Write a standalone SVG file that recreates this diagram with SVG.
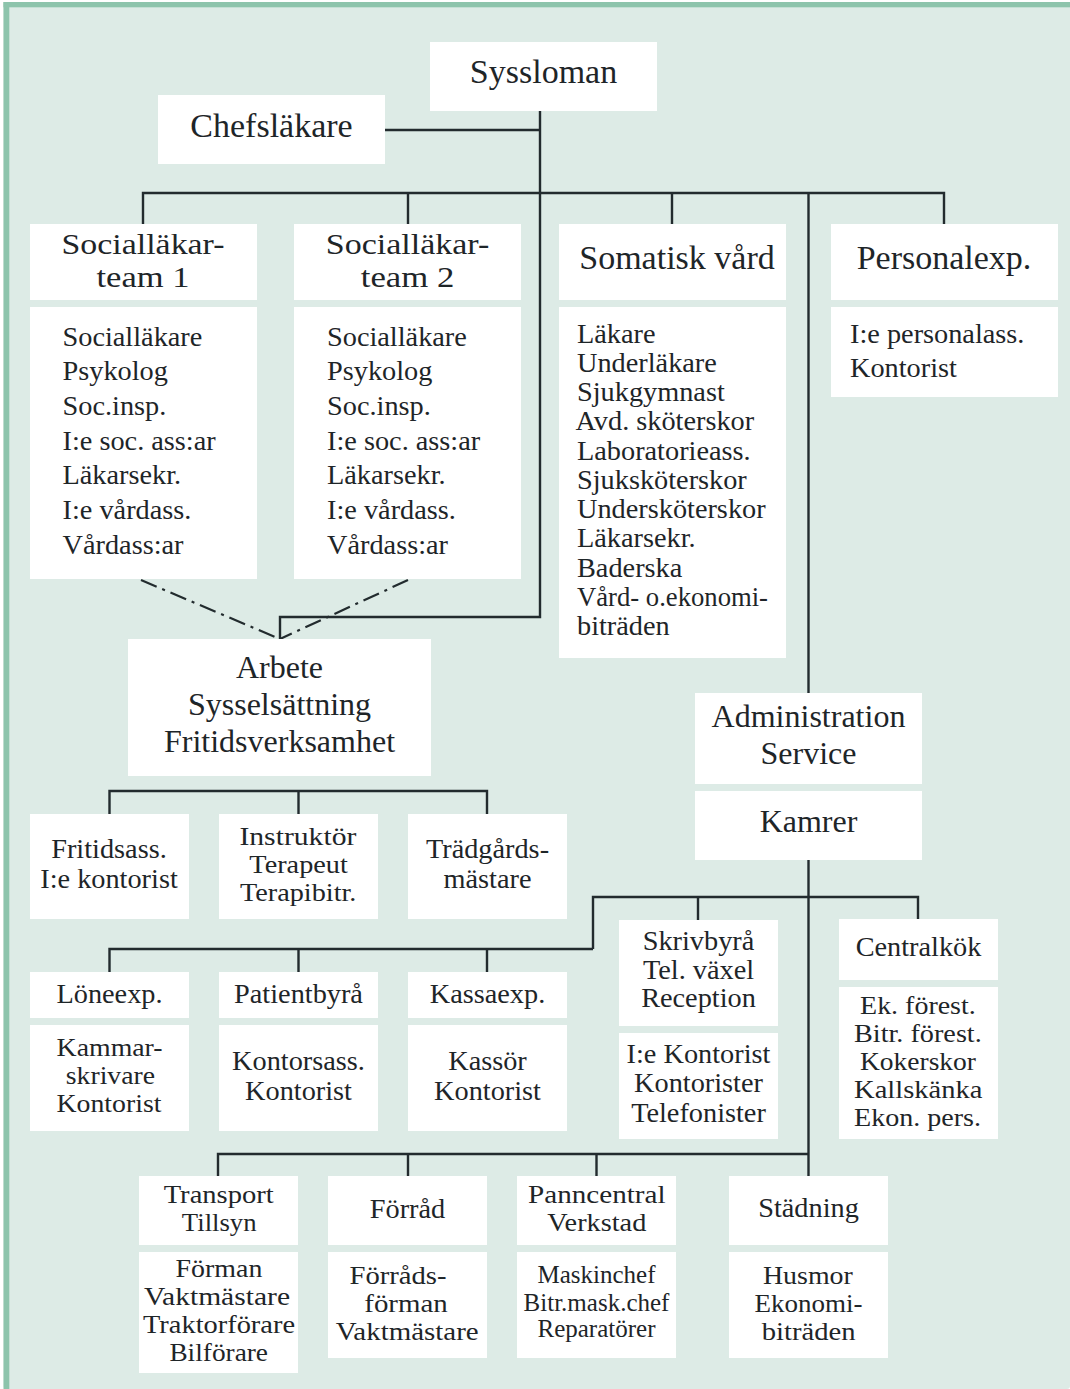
<svg xmlns="http://www.w3.org/2000/svg" width="1070" height="1389" viewBox="0 0 1070 1389">
<style>
.bx{fill:#ffffff}
.t{font-family:"Liberation Serif","Times New Roman",serif;fill:#1e2528;text-anchor:middle}
.l{text-anchor:start}
.h{font-size:34px}
.h2{font-size:30px}
.m{font-size:32px}
.s{font-size:28.3px}
.s2{font-size:25.5px}
.xs{font-size:25px}
.ln{fill:none;stroke:#222b2e;stroke-width:2.4;stroke-linejoin:miter}
.dd{fill:none;stroke:#222b2e;stroke-width:2.2;stroke-dasharray:17 6 3 6}
</style>
<rect x="0" y="0" width="1070" height="1389" fill="#ffffff"/>
<rect x="3.5" y="2" width="1066.5" height="1387" rx="3" fill="#ddebe6"/>
<rect x="3.5" y="2" width="1066.5" height="5.3" fill="#8dc4ac"/>
<rect x="3.5" y="2" width="5.8" height="1387" fill="#8dc4ac"/>

<g id="connectors">
<path class="ln" d="M540,111 V617 H280 V639"/>
<path class="ln" d="M385,130 H540"/>
<path class="ln" d="M143,224 V193 H944 V224"/>
<path class="ln" d="M408,193 V224 M672,193 V224"/>
<path class="ln" d="M808.5,193 V693"/>
<path class="ln" d="M808.5,860 V1176"/>
<path class="ln" d="M918,919 V897 H593 V949"/>
<path class="ln" d="M698,897 V920"/>
<path class="ln" d="M109.5,972 V949 H593"/>
<path class="ln" d="M298.5,949 V972 M487,949 V972"/>
<path class="ln" d="M109.5,814 V791 H487 V814"/>
<path class="ln" d="M298.5,791 V814"/>
<path class="ln" d="M218,1176 V1154 H808.5"/>
<path class="ln" d="M408,1154 V1176 M596.5,1154 V1176"/>
<path class="dd" d="M141,580 L280,639"/>
<path class="dd" d="M408,580 L280,639"/>
</g>

<g id="n-syssloman">
<rect class="bx" x="430" y="42" width="227" height="69"/>
<text class="t h" x="543.5" y="83.3">Syssloman</text>
</g>
<g id="n-chefslakare">
<rect class="bx" x="158" y="95" width="227" height="69"/>
<text class="t h" x="271.5" y="136.7">Chefsläkare</text>
</g>
<g id="n-team1">
<rect class="bx" x="30" y="224" width="227" height="76"/>
<text class="t h2" x="143" y="253.5" textLength="163" lengthAdjust="spacingAndGlyphs">Socialläkar-</text>
<text class="t h2" x="143" y="286.5" textLength="93" lengthAdjust="spacingAndGlyphs">team 1</text>
<rect class="bx" x="30" y="307" width="227" height="272"/>
<text class="t s l" x="62.5" y="345.5">Socialläkare</text>
<text class="t s l" x="62.5" y="380.2">Psykolog</text>
<text class="t s l" x="62.5" y="414.9">Soc.insp.</text>
<text class="t s l" x="62.5" y="449.6">I:e soc. ass:ar</text>
<text class="t s l" x="62.5" y="484.3">Läkarsekr.</text>
<text class="t s l" x="62.5" y="519">I:e vårdass.</text>
<text class="t s l" x="62.5" y="553.7">Vårdass:ar</text>
</g>
<g id="n-team2">
<rect class="bx" x="294" y="224" width="227" height="76"/>
<text class="t h2" x="407.5" y="253.5" textLength="163.5" lengthAdjust="spacingAndGlyphs">Socialläkar-</text>
<text class="t h2" x="407.5" y="286.5" textLength="93.5" lengthAdjust="spacingAndGlyphs">team 2</text>
<rect class="bx" x="294" y="307" width="227" height="272"/>
<text class="t s l" x="327" y="345.5">Socialläkare</text>
<text class="t s l" x="327" y="380.2">Psykolog</text>
<text class="t s l" x="327" y="414.9">Soc.insp.</text>
<text class="t s l" x="327" y="449.6">I:e soc. ass:ar</text>
<text class="t s l" x="327" y="484.3">Läkarsekr.</text>
<text class="t s l" x="327" y="519">I:e vårdass.</text>
<text class="t s l" x="327" y="553.7">Vårdass:ar</text>
</g>
<g id="n-somatisk">
<rect class="bx" x="559" y="224" width="227" height="76"/>
<text class="t h" x="677" y="269.3">Somatisk vård</text>
<rect class="bx" x="559" y="307" width="227" height="351"/>
<text class="t s l" x="577" y="342.7">Läkare</text>
<text class="t s l" x="577" y="371.9">Underläkare</text>
<text class="t s l" x="577" y="401.1">Sjukgymnast</text>
<text class="t s l" x="575.5" y="430.4">Avd. sköterskor</text>
<text class="t s l" x="577" y="459.6">Laboratorieass.</text>
<text class="t s l" x="577" y="488.8">Sjuksköterskor</text>
<text class="t s l" x="577" y="518.1">Undersköterskor</text>
<text class="t s l" x="577" y="547.3">Läkarsekr.</text>
<text class="t s l" x="577" y="576.5">Baderska</text>
<text class="t s l" x="577" y="605.8" textLength="191" lengthAdjust="spacingAndGlyphs">Vård- o.ekonomi-</text>
<text class="t s l" x="577" y="635">biträden</text>
</g>
<g id="n-personal">
<rect class="bx" x="831" y="224" width="227" height="76"/>
<text class="t h" x="944" y="269.3">Personalexp.</text>
<rect class="bx" x="831" y="307" width="227" height="90"/>
<text class="t s l" x="850" y="343.3">I:e personalass.</text>
<text class="t s l" x="850" y="376.7">Kontorist</text>
</g>
<g id="n-arbete">
<rect class="bx" x="128" y="639" width="303" height="137"/>
<text class="t m" x="279.5" y="678.3">Arbete</text>
<text class="t m" x="279.5" y="715">Sysselsättning</text>
<text class="t m" x="279.5" y="751.7">Fritidsverksamhet</text>
</g>
<g id="n-fritidsass">
<rect class="bx" x="30" y="814" width="159" height="105"/>
<text class="t s" x="109" y="857.7">Fritidsass.</text>
<text class="t s" x="109" y="888.3">I:e kontorist</text>
</g>
<g id="n-instruktor">
<rect class="bx" x="219" y="814" width="159" height="105"/>
<text class="t s2" x="297.9" y="845" textLength="117" lengthAdjust="spacingAndGlyphs">Instruktör</text>
<text class="t s2" x="298.6" y="873" textLength="98.5" lengthAdjust="spacingAndGlyphs">Terapeut</text>
<text class="t s2" x="298.2" y="901" textLength="116.4" lengthAdjust="spacingAndGlyphs">Terapibitr.</text>
</g>
<g id="n-tradgard">
<rect class="bx" x="408" y="814" width="159" height="105"/>
<text class="t s" x="487.5" y="857.7">Trädgårds-</text>
<text class="t s" x="487.5" y="888.3">mästare</text>
</g>
<g id="n-admin">
<rect class="bx" x="695" y="693" width="227" height="91"/>
<text class="t m" x="808.5" y="727.3">Administration</text>
<text class="t m" x="808.5" y="764">Service</text>
</g>
<g id="n-kamrer">
<rect class="bx" x="695" y="791" width="227" height="69"/>
<text class="t m" x="808.5" y="831.7">Kamrer</text>
</g>
<g id="n-loneexp">
<rect class="bx" x="30" y="972" width="159" height="46"/>
<text class="t s" x="109.5" y="1003">Löneexp.</text>
<rect class="bx" x="30" y="1025" width="159" height="106"/>
<text class="t s2" x="109.6" y="1056" textLength="106" lengthAdjust="spacingAndGlyphs">Kammar-</text>
<text class="t s2" x="110.4" y="1084" textLength="89.2" lengthAdjust="spacingAndGlyphs">skrivare</text>
<text class="t s2" x="109" y="1112" textLength="104.9" lengthAdjust="spacingAndGlyphs">Kontorist</text>
</g>
<g id="n-patientbyra">
<rect class="bx" x="219" y="972" width="159" height="46"/>
<text class="t s" x="298.5" y="1003">Patientbyrå</text>
<rect class="bx" x="219" y="1025" width="159" height="106"/>
<text class="t s" x="298.5" y="1070">Kontorsass.</text>
<text class="t s" x="298.5" y="1100">Kontorist</text>
</g>
<g id="n-kassaexp">
<rect class="bx" x="408" y="972" width="159" height="46"/>
<text class="t s" x="487.5" y="1003">Kassaexp.</text>
<rect class="bx" x="408" y="1025" width="159" height="106"/>
<text class="t s" x="487.5" y="1070">Kassör</text>
<text class="t s" x="487.5" y="1100">Kontorist</text>
</g>
<g id="n-skrivbyra">
<rect class="bx" x="619" y="920" width="159" height="106"/>
<text class="t s" x="698.5" y="950">Skrivbyrå</text>
<text class="t s" x="698.5" y="978.7">Tel. växel</text>
<text class="t s" x="698.5" y="1007.4">Reception</text>
<rect class="bx" x="619" y="1033" width="159" height="106"/>
<text class="t s" x="698.5" y="1062.7">I:e Kontorist</text>
<text class="t s" x="698.5" y="1091.7">Kontorister</text>
<text class="t s" x="698.5" y="1121.7">Telefonister</text>
</g>
<g id="n-centralkok">
<rect class="bx" x="839" y="919" width="159" height="61"/>
<text class="t s" x="918.5" y="956">Centralkök</text>
<rect class="bx" x="839" y="987" width="159" height="152"/>
<text class="t s2" x="917.9" y="1013.5" textLength="115.7" lengthAdjust="spacingAndGlyphs">Ek. förest.</text>
<text class="t s2" x="917.9" y="1041.5" textLength="127.7" lengthAdjust="spacingAndGlyphs">Bitr. förest.</text>
<text class="t s2" x="918" y="1069.5" textLength="116" lengthAdjust="spacingAndGlyphs">Kokerskor</text>
<text class="t s2" x="918.2" y="1097.5" textLength="128.3" lengthAdjust="spacingAndGlyphs">Kallskänka</text>
<text class="t s2" x="917.5" y="1125.5" textLength="127" lengthAdjust="spacingAndGlyphs">Ekon. pers.</text>
</g>
<g id="n-transport">
<rect class="bx" x="139" y="1176" width="159" height="69"/>
<text class="t s2" x="218.7" y="1202.5" textLength="110" lengthAdjust="spacingAndGlyphs">Transport</text>
<text class="t s2" x="219.2" y="1230.5" textLength="74.7" lengthAdjust="spacingAndGlyphs">Tillsyn</text>
<rect class="bx" x="139" y="1252" width="159" height="121"/>
<text class="t s2" x="219" y="1277" textLength="86.8" lengthAdjust="spacingAndGlyphs">Förman</text>
<text class="t s2" x="217" y="1305" textLength="146" lengthAdjust="spacingAndGlyphs">Vaktmästare</text>
<text class="t s2" x="219" y="1333" textLength="152" lengthAdjust="spacingAndGlyphs">Traktorförare</text>
<text class="t s2" x="218.7" y="1361" textLength="98.6" lengthAdjust="spacingAndGlyphs">Bilförare</text>
</g>
<g id="n-forrad">
<rect class="bx" x="328" y="1176" width="159" height="69"/>
<text class="t s" x="407.5" y="1218">Förråd</text>
<rect class="bx" x="328" y="1252" width="159" height="106"/>
<text class="t s2" x="398" y="1283.5" textLength="97" lengthAdjust="spacingAndGlyphs">Förråds-</text>
<text class="t s2" x="406" y="1311.5" textLength="83.4" lengthAdjust="spacingAndGlyphs">förman</text>
<text class="t s2" x="407.2" y="1339.5" textLength="143" lengthAdjust="spacingAndGlyphs">Vaktmästare</text>
</g>
<g id="n-panncentral">
<rect class="bx" x="517" y="1176" width="159" height="69"/>
<text class="t s2" x="596.8" y="1202.5" textLength="137.5" lengthAdjust="spacingAndGlyphs">Panncentral</text>
<text class="t s2" x="596.8" y="1230.5" textLength="99" lengthAdjust="spacingAndGlyphs">Verkstad</text>
<rect class="bx" x="517" y="1252" width="159" height="106"/>
<text class="t xs" x="596.5" y="1283.3">Maskinchef</text>
<text class="t xs" x="596.5" y="1310.7">Bitr.mask.chef</text>
<text class="t xs" x="596.5" y="1336.7">Reparatörer</text>
</g>
<g id="n-stadning">
<rect class="bx" x="729" y="1176" width="159" height="69"/>
<text class="t s" x="808.5" y="1217.3">Städning</text>
<rect class="bx" x="729" y="1252" width="159" height="106"/>
<text class="t s2" x="807.9" y="1283.5" textLength="89.8" lengthAdjust="spacingAndGlyphs">Husmor</text>
<text class="t s2" x="808.5" y="1311.5" textLength="108" lengthAdjust="spacingAndGlyphs">Ekonomi-</text>
<text class="t s2" x="808.7" y="1339.5" textLength="93.8" lengthAdjust="spacingAndGlyphs">biträden</text>
</g>
</svg>
